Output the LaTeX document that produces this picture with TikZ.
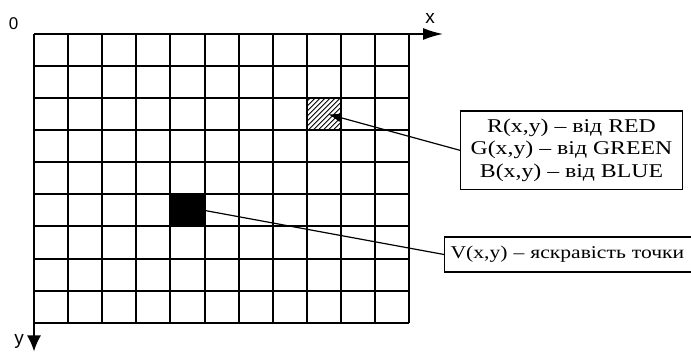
\documentclass[tikz,border=0pt]{standalone}
\usepackage{fontspec}
\setmainfont{Liberation Serif}
\newfontfamily\labelfont{Liberation Serif}[FakeStretch=1.2]
\newfontfamily\widelabelfont{Liberation Serif}[FakeStretch=1.22]
\newfontfamily\axisfont{Liberation Sans}
\usetikzlibrary{arrows.meta}
\begin{document}
\begin{tikzpicture}[x=1pt,y=-1pt,
  gridline/.style={line width=1.5pt},
  axisline/.style={line width=1.6pt},
  cellbox/.style={minimum width=34.12pt,minimum height=32.08pt,inner sep=0pt,outer sep=0pt},
  labelbox/.style={draw,line width=1.2pt,inner sep=0pt},
  axislabel/.style={font=\axisfont\fontsize{19}{19}\selectfont,inner sep=0pt},
  connector/.style={line width=1.2pt}]
\useasboundingbox (0,0) rectangle (691,352);
\clip (0,0) rectangle (691,352);
% special cells
\node[cellbox,fill=black] (vcell) at (187.54,210.44) {};
\node[cellbox] (rgbcell) at (324.02,114.2) {};
\begin{scope}
  \clip (rgbcell.south west) rectangle (rgbcell.north east);
  \foreach \k in {-8,...,8}
    \draw[line width=0.9pt] ({304.02+5*\k},134.2) -- ++(40,-40);
\end{scope}
% grid
\foreach \i in {0,...,11}{
  \pgfmathsetmacro{\gx}{round(34+\i*34.12)}
  \draw[gridline] (\gx,34) -- (\gx,323);
}
\foreach \j in {0,...,9}{
  \pgfmathsetmacro{\gy}{round(34+\j*32.08)}
  \draw[gridline] (34,\gy) -- (409,\gy);
}
% axes
\coordinate (O) at (34,34);
\coordinate (xend) at (443,34);
\coordinate (yend) at (34,351.5);
\draw[axisline,-{Latex[length=20pt,width=12pt]}] (O) -- (xend);
\draw[axisline,-{Latex[length=16pt,width=14pt]}] (O) -- (yend);
\node[axislabel,font=\axisfont\fontsize{17}{17}\selectfont] (zero) at (13.5,24) {0};
\node[axislabel] (xlab) at (430,18) {x};
\node[axislabel] (ylab) at (19,341) {y};
% label boxes
\node[labelbox,minimum width=222pt,minimum height=78.5pt,align=center,
      font=\widelabelfont\fontsize{19.5}{22.3}\selectfont] (rgb) at (571.5,150.3)
  {R(x,y) – від RED\\G(x,y) – від GREEN\\B(x,y) – від BLUE};
\node[labelbox,anchor=west,minimum height=35pt,inner xsep=6pt,text width=248pt,align=left,
      font=\labelfont\fontsize{18}{22}\selectfont] (vbox) at (444,254.5)
  {V(x,y) – яскравість точки};
% connectors
\draw[connector,-{Latex[length=13pt,width=9pt]}] (rgb.west) -- ([xshift=4pt]rgbcell.center);
\draw[connector] (vcell.east) -- (vbox.west);
\end{tikzpicture}
\end{document}
